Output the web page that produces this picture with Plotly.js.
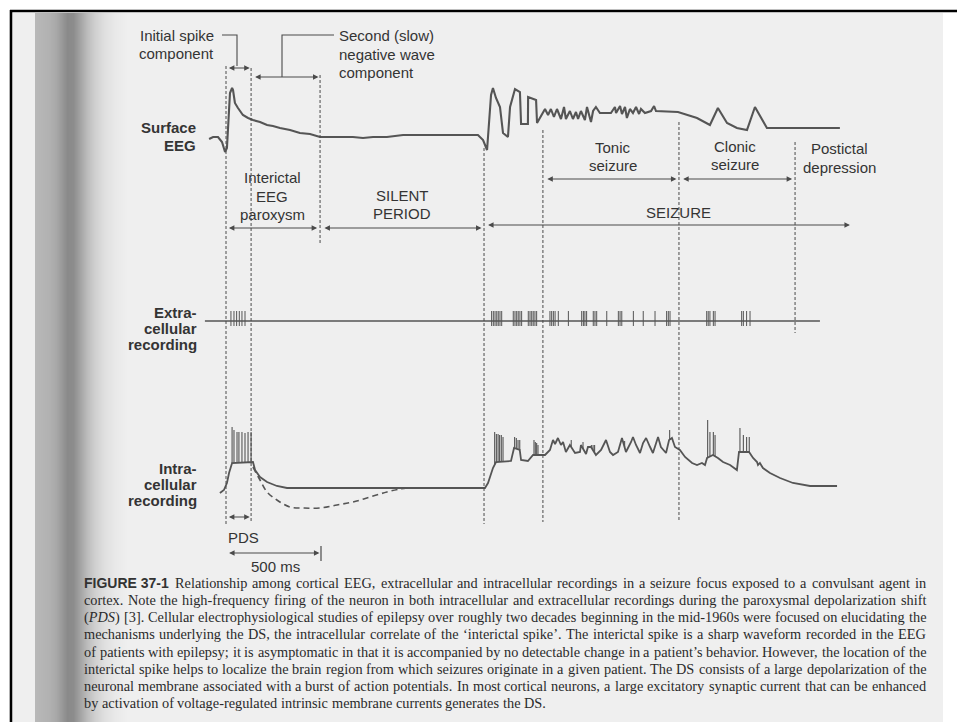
<!DOCTYPE html>
<html><head><meta charset="utf-8">
<script src="https://cdn.plot.ly/plotly-3.0.1.min.js"></script>
<style>html,body{margin:0;padding:0;background:#fff;}#chart{width:957px;height:722px;}</style>
</head><body><div id="chart"></div>
<script>
// ---------------- DATA (time in ms, amplitude in arbitrary units relative to each trace's baseline) ----------------
const eegT = [-89,-68,-42,-21,-5,5,21,32,37,47,63,89,116,142,179,216,247,284,337,389,442,495,584,668,721,774,847,932,1021,1195,
  1326,1353,1374,1395,1405,1421,1442,1458,1484,1495,1521,1547,1553,1589,1590,1632,1637,1679,1695,1710,1726,1742,1763,1779,1789,
  1810,1826,1842,1853,1868,1889,1900,1921,1932,1947,1968,2026,2047,2053,2074,2084,2100,2110,2126,2142,2158,2174,2184,2205,2237,
  2253,2263,2379,2479,2547,2589,2637,2689,2742,2784,2847,3231];
const eegV = [-2,0,0,-5,-15,-11,44,49,47,34,29,22,19,17,15,12,11,9,7,4,3,0,0,0,-1,0,0,2,2,2,
  2,-3,-13,42,49,39,30,4,0,30,48,45,13,13,40,37,14,28,22,28,20,28,18,30,18,
  26,18,25,18,26,17,30,15,26,30,24,24,30,24,31,23,30,19,28,24,30,23,28,24,26,
  31,26,25,19,12,29,14,9,7,30,9,9];

const extraSpanT = [-111, 3126];
const extraSpikeT = [26,42,56,70,84,100,
  1398,1407,1416,1425,1433,1442,1451, 1512,1521,1530,1538,1547,1556, 1591,1600,1609,1617,1626,1635,
  1705,1714,1723,1732,1749, 1802, 1872,1881,1889,1898, 1933,1942,1951, 2004, 2065,2074,2083,
  2144, 2196, 2258, 2319,2328,2337, 2530,2538,2547,2565,2574, 2714,2723,2740,2758];
const extraSpikeUp = 10, extraSpikeDown = -5;

const intraT = [-32,-11,5,16,32,142,153,179,216,268,321,1363,1379,1405,1421,1500,1516,1546,1553,1589,1616,1653,1679,1705,1721,
  1732,1747,1763,1774,1789,1810,1837,1863,1868,1895,1905,1921,1947,1974,2000,2021,2037,2063,2084,2105,2132,2142,2158,2179,2195,
  2211,2232,2247,2274,2289,2316,2332,2347,2363,2389,2416,2453,2479,2505,2521,2532,2563,2589,2616,2653,2679,2689,2700,2753,2774,
  2795,2800,2810,2826,2863,2916,2984,3074,3216];
const intraV = [-5,-2,5,15,25,26,18,11,6,2,0,0,5,20,26,27,40,38,28,27,33,33,33,38,48,
  44,50,43,46,36,43,35,36,43,34,41,41,33,38,48,36,33,36,50,36,46,51,43,35,45,
  50,41,35,51,41,35,48,50,41,38,31,25,23,25,23,30,33,30,26,23,20,18,36,36,30,
  26,23,25,20,15,10,5,2,2];
const intraSpikeT = [32,42,58,68,84,100,116,132,
  1414,1423,1432,1440,1449,1458, 1519,1528,1537,1546, 1621,1628,1635,1642,
  1817,1879,1923,1932,1940,2089,2098,2335,2350,
  2535,2547,2565,2574, 2705,2723,2740,2754];
const intraSpikePeak = [61,58,56,56,56,55,56,56,
  56,54,54,53,53,51, 51,50,48,48, 48,46,45,43,
  48,46,43,43,43,47,47,58,50,
  68,56,56,53, 60,53,51,51];
const ahpT = [142,179,216,268,337,405,495,584,668,758,847,916,953];
const ahpV = [21,8,-4,-12,-19,-20,-20,-17,-14,-9,-4,-1,0];

const eventT = [0, 132, 495, 1358, 1668, 2384, 2995];

// ---------------- LAYOUT HELPERS ----------------
const W = 957, H = 722;
const MS_PER_PX = 500 / 95;
const X0 = -226 * MS_PER_PX, X1 = (W - 226) * MS_PER_PX;
const tx = px => (px - 226) * MS_PER_PX;   // page pixel -> time axis (layout only)
const P = px => px / W;
const INK = '#555555', TXT = '#343434';
const SANS = '"Liberation Sans", Arial, sans-serif';
const SERIF = '"Liberation Serif", "Times New Roman", serif';

function interp(xs, ys, t) {
  for (let i = 0; i < xs.length - 1; i++) {
    if (t >= xs[i] && t <= xs[i + 1]) {
      const f = (t - xs[i]) / (xs[i + 1] - xs[i] || 1);
      return ys[i] + f * (ys[i + 1] - ys[i]);
    }
  }
  return ys[ys.length - 1];
}
const exSX = [], exSY = [];
extraSpikeT.forEach(t => { exSX.push(t, t, null); exSY.push(extraSpikeDown, extraSpikeUp, null); });
const inSX = [], inSY = [];
intraSpikeT.forEach((t, i) => { inSX.push(t, t, null); inSY.push(interp(intraT, intraV, t), intraSpikePeak[i], null); });

const traces = [
  {x: eegT, y: eegV, yaxis: 'y2', mode: 'lines', line: {color: INK, width: 2.1, shape: 'linear'}},
  {x: extraSpanT, y: [0, 0], yaxis: 'y3', mode: 'lines', line: {color: INK, width: 1.3}},
  {x: exSX, y: exSY, yaxis: 'y3', mode: 'lines', line: {color: INK, width: 1}},
  {x: intraT, y: intraV, yaxis: 'y4', mode: 'lines', line: {color: INK, width: 1.8}},
  {x: inSX, y: inSY, yaxis: 'y4', mode: 'lines', line: {color: INK, width: 1.1}},
  {x: ahpT, y: ahpV, yaxis: 'y4', mode: 'lines', line: {color: INK, width: 1.6, dash: '6px,4px', shape: 'spline'}}
];

const shapes = [];
shapes.push({type: 'rect', xref: 'paper', yref: 'y', x0: P(13), x1: P(943), y0: 13, y1: 722, fillcolor: '#efefef', line: {width: 0}, layer: 'below'});
const gut = [[35,184],[48,178],[56,168],[62,152],[67,138],[73,140],[79,160],[87,188],[95,208],[104,223],[114,232],[128,239]];
for (let px = 35; px < 128; px++) {
  let g = 239;
  for (let i = 0; i < gut.length - 1; i++) {
    if (px >= gut[i][0] && px < gut[i + 1][0]) {
      const f = (px - gut[i][0]) / (gut[i + 1][0] - gut[i][0]);
      g = Math.round(gut[i][1] + f * (gut[i + 1][1] - gut[i][1]));
    }
  }
  shapes.push({type: 'rect', xref: 'paper', yref: 'y', x0: P(px), x1: P(px + 1.05), y0: 13, y1: 722, fillcolor: `rgb(${g},${g},${g})`, line: {width: 0}, layer: 'below'});
}
shapes.push({type: 'line', xref: 'paper', yref: 'y', x0: P(11), x1: P(11), y0: 10, y1: 722, line: {color: '#000', width: 2.6}});
shapes.push({type: 'line', xref: 'paper', yref: 'y', x0: P(10), x1: 1, y0: 11, y1: 11, line: {color: '#000', width: 2.6}});
const eventSpanPx = [[66,525],[68,522],[75,243],[148,524],[130,522],[122,522],[142,333]];
eventT.forEach((t, i) => shapes.push({type: 'line', xref: 'x', yref: 'y', x0: t, x1: t, y0: eventSpanPx[i][0], y1: eventSpanPx[i][1],
  line: {color: '#4a4a4a', width: 1, dash: '3px,2px'}}));
shapes.push({type: 'path', xref: 'x', yref: 'y', path: `M ${tx(222)} 35 L ${tx(237)} 35 L ${tx(237)} 66`, line: {color: '#4a4a4a', width: 1.1}});
shapes.push({type: 'path', xref: 'x', yref: 'y', path: `M ${tx(282)} 77 L ${tx(282)} 35 L ${tx(334)} 35`, line: {color: '#4a4a4a', width: 1.1}});
shapes.push({type: 'line', xref: 'x', yref: 'y', x0: 500, x1: 500, y0: 546, y1: 561, line: {color: '#4a4a4a', width: 1.2}});

const ann = [];
function arrow(t0, t1, py) {
  ann.push({xref: 'x', yref: 'y', axref: 'x', ayref: 'y', x: t1, y: py, ax: t0, ay: py, text: '', showarrow: true,
    arrowside: 'end+start', arrowhead: 2, startarrowhead: 2, arrowsize: 1, startarrowsize: 1, arrowwidth: 1.1,
    arrowcolor: '#4a4a4a', standoff: 1, startstandoff: 1});
}
arrow(2, 130, 68);
arrow(140, 492, 77);
arrow(2, 485, 228);
arrow(505, 1350, 228);
arrow(1366, 3289, 225);
arrow(1678, 2376, 179);
arrow(2393, 2985, 179);
arrow(2, 130, 517);
arrow(3, 497, 553);

function lab(text, px, py, anchor, bold) {
  ann.push({xref: 'paper', yref: 'y', x: P(px), y: py, text: bold ? '<b>' + text + '</b>' : text, showarrow: false,
    xanchor: anchor, yanchor: 'middle', borderpad: 0, borderwidth: 0, font: {family: SANS, size: 15, color: TXT}});
}
lab('Initial spike', 214, 35, 'right');
lab('component', 214, 53, 'right');
lab('Second (slow)', 339, 35, 'left');
lab('negative wave', 339, 54, 'left');
lab('component', 339, 72, 'left');
lab('Surface', 196, 127, 'right', true);
lab('EEG', 196, 145, 'right', true);
lab('Interictal', 272, 177, 'center');
lab('EEG', 272, 196, 'center');
lab('paroxysm', 272, 214, 'center');
lab('SILENT', 402, 195, 'center');
lab('PERIOD', 402, 213, 'center');
lab('Tonic', 613, 147, 'center');
lab('seizure', 613, 165, 'center');
lab('Clonic', 735, 146, 'center');
lab('seizure', 735, 164, 'center');
lab('Postictal', 839, 148, 'center');
lab('depression', 839, 167, 'center');
lab('SEIZURE', 678, 212, 'center');
lab('Extra-', 197, 312, 'right', true);
lab('cellular', 197, 328, 'right', true);
lab('recording', 197, 344, 'right', true);
lab('Intra-', 197, 468, 'right', true);
lab('cellular', 197, 484, 'right', true);
lab('recording', 197, 500, 'right', true);
lab('PDS', 243, 537, 'center');
lab('500 ms', 275, 566, 'center');

const capFig = 'FIGURE 37-1';
const capLines = [
  'Relationship among cortical EEG, extracellular and intracellular recordings in a seizure focus exposed to a convulsant agent in',
  'cortex. Note the high-frequency firing of the neuron in both intracellular and extracellular recordings during the paroxysmal depolarization shift',
  '(<i>PDS</i>) [3]. Cellular electrophysiological studies of epilepsy over roughly two decades beginning in the mid-1960s were focused on elucidating the',
  'mechanisms underlying the DS, the intracellular correlate of the \u2018interictal spike\u2019. The interictal spike is a sharp waveform recorded in the EEG',
  'of patients with epilepsy; it is asymptomatic in that it is accompanied by no detectable change in a patient\u2019s behavior. However, the location of the',
  'interictal spike helps to localize the brain region from which seizures originate in a given patient. The DS consists of a large depolarization of the',
  'neuronal membrane associated with a burst of action potentials. In most cortical neurons, a large excitatory synaptic current that can be enhanced',
  'by activation of voltage-regulated intrinsic membrane currents generates the DS.'
];
const ctx = document.createElement('canvas').getContext('2d');
const plain = s => s.replace(/<[^>]+>/g, '');
function mw(s, font) { ctx.font = font; return ctx.measureText(plain(s)).width; }
const capL = 84, capR = 926, capY0 = 583, capDy = 17.15;
const figFont = 'bold 14px "Liberation Sans"';
const figW = mw(capFig, figFont);
let base = 13, scale = 10;
capLines.slice(0, 7).forEach((ln, i) => {
  const avail = (capR - capL) - (i === 0 ? figW + 6 : 0);
  const nat = mw(ln, `${base}px "Liberation Serif"`);
  scale = Math.min(scale, avail / nat);
});
const capFs = base * scale * 0.995;
const capFont = `${capFs}px "Liberation Serif"`;
const spaceW = mw(' ', capFont);
ann.push({xref: 'paper', yref: 'y', x: P(capL), y: capY0, text: '<b>' + capFig + '</b>', showarrow: false, xanchor: 'left', yanchor: 'middle',
  borderpad: 0, borderwidth: 0, font: {family: SANS, size: 14, color: '#333'}});
capLines.forEach((ln, i) => {
  const words = ln.split(' ');
  const widths = words.map(w => mw(w, capFont));
  const sum = widths.reduce((a, b) => a + b, 0);
  const left = capL + (i === 0 ? figW + 6 : 0);
  const gap = (i === capLines.length - 1) ? spaceW : ((capR - left) - sum) / (words.length - 1);
  let x = left;
  words.forEach((w, k) => {
    ann.push({xref: 'paper', yref: 'y', x: P(x), y: capY0 + i * capDy, text: w, showarrow: false, xanchor: 'left', yanchor: 'middle',
      borderpad: 0, borderwidth: 0, font: {family: SERIF, size: capFs, color: '#2a2a2a'}});
    x += widths[k] + gap;
  });
});

const layout = {
  width: W, height: H, margin: {l: 0, r: 0, t: 0, b: 0, pad: 0},
  paper_bgcolor: '#ffffff', plot_bgcolor: 'rgba(0,0,0,0)', showlegend: false,
  xaxis: {range: [X0, X1], visible: false, fixedrange: true},
  yaxis: {range: [H, 0], visible: false, fixedrange: true},
  yaxis2: {range: [-(H - 137), 137], overlaying: 'y', anchor: 'x', visible: false},
  yaxis3: {range: [-(H - 321), 321], overlaying: 'y', anchor: 'x', visible: false},
  yaxis4: {range: [-(H - 488), 488], overlaying: 'y', anchor: 'x', visible: false},
  shapes: shapes, annotations: ann
};
Plotly.newPlot('chart', traces, layout, {staticPlot: true, displayModeBar: false});
</script>
</body></html>
